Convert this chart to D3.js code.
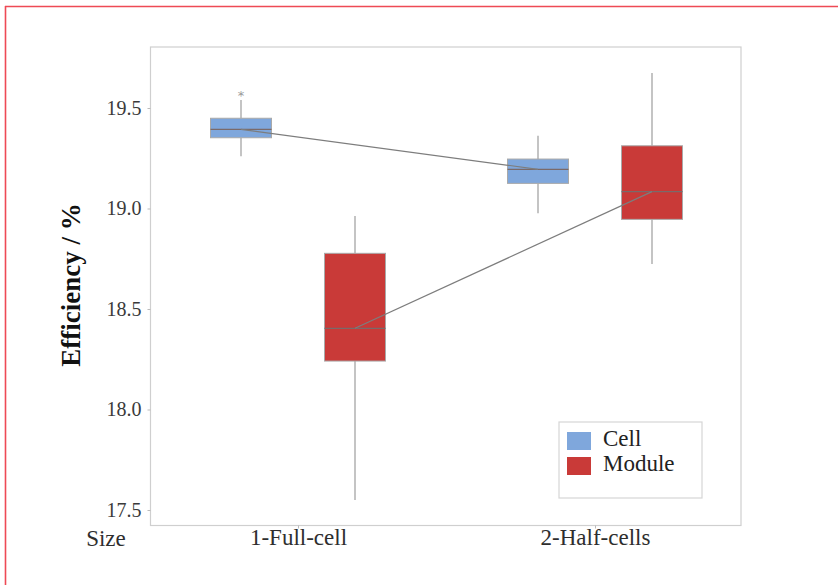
<!DOCTYPE html>
<html>
<head>
<meta charset="utf-8">
<script src="https://cdn.jsdelivr.net/npm/d3@7"></script>
<style>
  html, body { margin: 0; padding: 0; background: #fff; }
  svg { display: block; }
</style>
</head>
<body>
<svg id="chart" width="838" height="585"></svg>
<script>
// Cell size groups on the x axis
const categories = ["1-Full-cell", "2-Half-cells"];
const seriesNames = ["Cell", "Module"];
const seriesColors = ["#7fa7dc", "#c93a38"];

// Box statistics per series, one entry per category
const cellLow    = [19.26, 18.976];
const cellQ1     = [19.352, 19.125];
const cellMedian = [19.394, 19.195];
const cellQ3     = [19.449, 19.246];
const cellHigh   = [19.54, 19.362];
const cellOutliers = [[19.578], []];

const moduleLow    = [17.55, 18.724];
const moduleQ1     = [18.241, 18.946];
const moduleMedian = [18.404, 19.084];
const moduleQ3     = [18.777, 19.312];
const moduleHigh   = [18.963, 19.674];
const moduleOutliers = [[], []];

const yTicks = [17.5, 18.0, 18.5, 19.0, 19.5];

const series = [
  { name: seriesNames[0], color: seriesColors[0], low: cellLow, q1: cellQ1, med: cellMedian, q3: cellQ3, high: cellHigh, out: cellOutliers },
  { name: seriesNames[1], color: seriesColors[1], low: moduleLow, q1: moduleQ1, med: moduleMedian, q3: moduleQ3, high: moduleHigh, out: moduleOutliers }
];

const svg = d3.select("#chart");
const serif = "'Liberation Serif', 'Times New Roman', serif";

// page border (top and left edges)
svg.append("line").attr("x1", 5).attr("x2", 838).attr("y1", 6.5).attr("y2", 6.5)
  .attr("stroke", "#ee4a55").attr("stroke-width", 1.6);
svg.append("line").attr("x1", 5.5).attr("x2", 5.5).attr("y1", 6).attr("y2", 585)
  .attr("stroke", "#ee4a55").attr("stroke-width", 1.6);

const plot = { left: 150.5, right: 741, top: 47, bottom: 525.5 };

const y = d3.scaleLinear().domain([17.5, 19.5]).range([510, 108]);
const x = d3.scalePoint().domain(categories).range([298, 595]);
// side-by-side placement of the two series within a category
const xs = d3.scaleBand().domain(seriesNames).range([-114, 114])
  .paddingInner(0.465).paddingOuter(0.2325);

// plot frame
svg.append("rect")
  .attr("x", plot.left).attr("y", plot.top)
  .attr("width", plot.right - plot.left).attr("height", plot.bottom - plot.top)
  .attr("fill", "none").attr("stroke", "#cfcfcf").attr("stroke-width", 1.2);

// y axis
const yAxis = svg.append("g")
  .attr("transform", `translate(${plot.left},0)`)
  .call(d3.axisLeft(y).tickValues(yTicks).tickFormat(d3.format(".1f")).tickSize(3).tickPadding(6));
yAxis.attr("font-family", null).attr("font-size", null);
yAxis.select(".domain").remove();
yAxis.selectAll("line").attr("stroke", "#bbb");
yAxis.selectAll("text").style("font-family", serif).style("font-size", "20px").attr("fill", "#3a3a3a");

// x axis
const xAxis = svg.append("g")
  .attr("transform", `translate(0,${plot.bottom})`)
  .call(d3.axisBottom(x).tickSize(3).tickPadding(5));
xAxis.attr("font-family", null).attr("font-size", null);
xAxis.select(".domain").remove();
xAxis.selectAll("line").attr("stroke", "#bbb");
xAxis.selectAll("text").style("font-family", serif).style("font-size", "23px").attr("fill", "#2e2e2e")
  .attr("dy", "0.5em");

svg.append("text").attr("x", 106).attr("y", 546).attr("text-anchor", "middle")
  .style("font-family", serif).style("font-size", "23px").attr("fill", "#2e2e2e").text("Size");

svg.append("text")
  .attr("transform", "translate(80,285) rotate(-90)")
  .attr("text-anchor", "middle")
  .style("font-family", serif).style("font-size", "27px").attr("font-weight", "bold").attr("fill", "#111")
  .text("Efficiency / %");

const bw = xs.bandwidth();

series.forEach(s => {
  const g = svg.append("g");
  categories.forEach((c, i) => {
    const cx = x(c) + xs(s.name) + bw / 2;
    // whiskers
    g.append("line").attr("x1", cx).attr("x2", cx).attr("y1", y(s.high[i])).attr("y2", y(s.q3[i]))
      .attr("stroke", "#c4c4c4").attr("stroke-width", 2);
    g.append("line").attr("x1", cx).attr("x2", cx).attr("y1", y(s.q1[i])).attr("y2", y(s.low[i]))
      .attr("stroke", "#c4c4c4").attr("stroke-width", 2);
    // box
    g.append("rect").attr("x", cx - bw / 2).attr("y", y(s.q3[i]))
      .attr("width", bw).attr("height", y(s.q1[i]) - y(s.q3[i]))
      .attr("fill", s.color).attr("stroke", "#a9a9a9").attr("stroke-width", 1);
    // median
    g.append("line").attr("x1", cx - bw / 2).attr("x2", cx + bw / 2)
      .attr("y1", y(s.med[i])).attr("y2", y(s.med[i]))
      .attr("stroke", "#7a6a6a").attr("stroke-width", 1.2);
    // outliers
    s.out[i].forEach(v => {
      g.append("text").attr("x", cx).attr("y", y(v) + 8).attr("text-anchor", "middle")
        .style("font-family", "DejaVu Sans, sans-serif").style("font-size", "13px").attr("fill", "#999").text("*");
    });
  });
  // median connect line
  const pts = categories.map((c, i) => [x(c) + xs(s.name) + bw / 2, y(s.med[i])]);
  g.append("path").attr("d", d3.line()(pts)).attr("fill", "none")
    .attr("stroke", "#7d7d7d").attr("stroke-width", 1.2);
});

// legend
const lg = svg.append("g").attr("transform", "translate(559,422)");
lg.append("rect").attr("x", 0).attr("y", 0).attr("width", 143).attr("height", 76)
  .attr("fill", "#fff").attr("stroke", "#d6d6d6").attr("stroke-width", 1.2);
series.forEach((s, i) => {
  lg.append("rect").attr("x", 8).attr("y", 10 + i * 25).attr("width", 24).attr("height", 18)
    .attr("fill", s.color);
  lg.append("text").attr("x", 44).attr("y", 24 + i * 25)
    .style("font-family", serif).style("font-size", "23px").attr("fill", "#222").text(s.name);
});
</script>
</body>
</html>
